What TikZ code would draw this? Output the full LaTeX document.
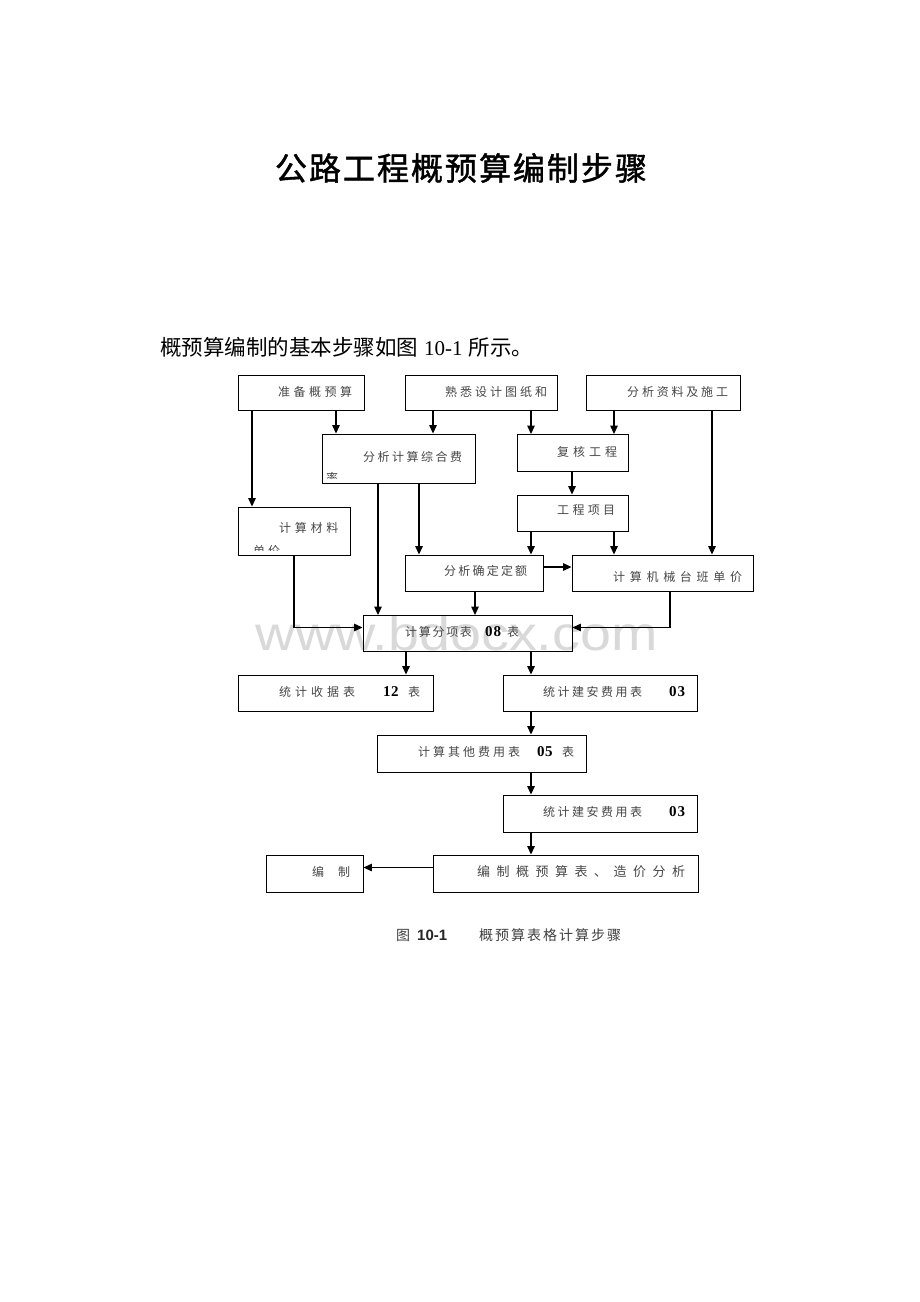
\documentclass[tikz,border=0pt]{standalone}
\usepackage{fontspec}
\setmainfont{Liberation Serif}
\newfontfamily\cjk{Noto Sans CJK SC}
\newfontfamily\cjkb[FakeBold=1.3]{Noto Sans CJK SC}
\newfontfamily\arialf{Liberation Sans}
\usetikzlibrary{arrows.meta}
\makeatletter
\newcommand\spc[2]{\def\spc@sep{\hspace*{#1}}\spc@aux#2\spc@end}
\def\spc@aux#1#2\spc@end{#1\if\relax\detokenize{#2}\relax\else\spc@sep\spc@aux#2\spc@end\fi}
\makeatother
\tikzset{
  box/.style={draw=black, line width=0.9pt, inner sep=0pt},
  txt/.style={font=\cjk\fontsize{12pt}{14pt}\selectfont, text=black!72, inner sep=0pt, anchor=west},
  bigtxt/.style={font=\cjk\fontsize{13pt}{15pt}\selectfont, text=black!72, inner sep=0pt, anchor=west},
  num/.style={font=\bfseries\fontsize{15pt}{15pt}\selectfont, text=black, inner sep=0pt, anchor=west},
  arr/.style={line width=1.3pt, -{Triangle[length=8.5pt,width=7.5pt]}},
}
\begin{document}
\begin{tikzpicture}[x=1pt,y=-1pt]
\fill[white] (0,0) rectangle (920,1302);
\useasboundingbox (0,0) rectangle (920,1302);

% title and intro
\node[font=\cjkb\fontsize{32pt}{36pt}\selectfont, inner sep=0pt] (title) at (461,168) {\spc{2pt}{公路工程概预算编制步骤}};
\node[font=\cjk\fontsize{21.5pt}{24pt}\selectfont, inner sep=0pt, anchor=west] (intro) at (160,347)
  {概预算编制的基本步骤如图\hspace{6pt}{\rmfamily\fontsize{21pt}{24pt}\selectfont 10-1}\hspace{6pt}所示。};

% watermark
\node[font=\arialf\fontsize{48pt}{48pt}\selectfont, text=black!15, inner sep=0pt, anchor=base, xscale=1.16] (wm) at (456.5,650) {www.bdocx.com};

% boxes
\node[box, minimum width=126pt, minimum height=35pt] (b1) at (301,392.5) {};
\node[box, minimum width=152pt, minimum height=35pt] (b2) at (481,392.5) {};
\node[box, minimum width=154pt, minimum height=35pt] (b3) at (663,392.5) {};
\node[box, minimum width=153pt, minimum height=49pt] (b4) at (398.5,458.5) {};
\node[box, minimum width=111pt, minimum height=37pt] (b5) at (572.5,453) {};
\node[box, minimum width=111pt, minimum height=36pt] (b6) at (572.5,513) {};
\node[box, minimum width=112pt, minimum height=48pt] (b7) at (294,531) {};
\node[box, minimum width=138pt, minimum height=36pt] (b8) at (474,573) {};
\node[box, minimum width=181pt, minimum height=36pt] (b9) at (662.5,573) {};
\node[box, minimum width=209pt, minimum height=36pt] (b10) at (467.5,633.5) {};
\node[box, minimum width=195pt, minimum height=36pt] (b11) at (335.5,693) {};
\node[box, minimum width=194pt, minimum height=36pt] (b12) at (600.5,693) {};
\node[box, minimum width=209pt, minimum height=37pt] (b13) at (482,753.5) {};
\node[box, minimum width=194pt, minimum height=37pt] (b14) at (600.5,813.5) {};
\node[box, minimum width=265pt, minimum height=37pt] (b15) at (565.5,873.5) {};
\node[box, minimum width=97pt, minimum height=37pt] (b16) at (314.5,873.5) {};

% box texts
\node[txt] (t1) at (278,392) {\spc{3.5pt}{准备概预算}};
\node[txt] (t2) at (445,392) {\spc{3pt}{熟悉设计图纸和}};
\node[txt] (t3) at (627,392) {\spc{2.8pt}{分析资料及施工}};
\node[txt] (t4) at (363,457) {\spc{2.5pt}{分析计算综合费}};
\node[txt] (t5) at (557,452) {\spc{4pt}{复核工程}};
\node[txt] (t6) at (557,510) {\spc{3.3pt}{工程项目}};
\node[txt] (t7) at (279,528) {\spc{3.7pt}{计算材料}};
\node[txt] (t8) at (444,571) {\spc{2.2pt}{分析确定定额}};
\node[txt] (t9) at (613,577) {\spc{4.7pt}{计算机械台班单价}};
\node[txt] (t10) at (405,632) {\spc{1.7pt}{计算分项表}};
\node[num] (n10) at (485,632) {\spc{1pt}{08}};
\node[txt] (u10) at (507,632) {表};
\node[txt] (t11) at (279,692) {\spc{4pt}{统计收据表}};
\node[num] (n11) at (383,692) {\spc{0.5pt}{12}};
\node[txt] (u11) at (408,692) {表};
\node[txt] (t12) at (543,692) {\spc{2.5pt}{统计建安费用表}};
\node[num] (n12) at (669,692) {\spc{1pt}{03}};
\node[txt] (t13) at (418,752) {\spc{3pt}{计算其他费用表}};
\node[num] (n13) at (537,752) {\spc{0.5pt}{05}};
\node[txt] (u13) at (562,752) {表};
\node[txt] (t14) at (543,812) {\spc{2.5pt}{统计建安费用表}};
\node[num] (n14) at (669,812) {\spc{1pt}{03}};
\node[bigtxt] (t15) at (477,872) {\spc{6.5pt}{编制概预算表、造价分析}};
\node[txt] (t16) at (312,872) {\spc{14pt}{编制}};

% clipped second lines
\begin{scope}
\clip (323,468) rectangle (474,478.5);
\node[txt] (f4) at (326,478) {率};
\end{scope}
\begin{scope}
\clip (239,540) rectangle (349,550);
\node[txt] (f7) at (253,551) {\spc{3pt}{单价}};
\end{scope}

% caption
\node[font=\cjk\fontsize{14pt}{16pt}\selectfont, text=black!75, inner sep=0pt, anchor=west] (c1) at (396,935) {图};
\node[font=\arialf\bfseries\fontsize{15pt}{16pt}\selectfont, text=black!85, inner sep=0pt, anchor=west] (c2) at (417,935) {10-1};
\node[font=\cjk\fontsize{14pt}{16pt}\selectfont, text=black!75, inner sep=0pt, anchor=west] (c3) at (479,935) {\spc{2pt}{概预算表格计算步骤}};

% column coordinates
\foreach \xx in {252,294,336,378,406,419,433,475,531,572,614,670,712}
  \coordinate (X\xx) at (\xx,0);

% connectors
\draw[arr] (b1.south -| X252) -- (b7.north -| X252);
\draw[arr] (b1.south -| X336) -- (b4.north -| X336);
\draw[arr] (b2.south -| X433) -- (b4.north -| X433);
\draw[arr] (b2.south -| X531) -- (b5.north -| X531);
\draw[arr] (b3.south -| X614) -- (b5.north -| X614);
\draw[arr] (b3.south -| X712) -- (b9.north -| X712);
\draw[arr] (b5.south -| X572) -- (b6.north -| X572);
\draw[arr] (b6.south -| X531) -- (b8.north -| X531);
\draw[arr] (b6.south -| X614) -- (b9.north -| X614);
\draw[arr] (b4.south -| X378) -- (b10.north -| X378);
\draw[arr] (b4.south -| X419) -- (b8.north -| X419);
\draw[arr] (b7.south -| X294) |- ([yshift=6pt]b10.west);
\draw[arr] ([yshift=6pt]b8.east) -- ([yshift=6pt]b9.west);
\draw[arr] (b8.south -| X475) -- (b10.north -| X475);
\draw[arr] (b9.south -| X670) |- ([yshift=6pt]b10.east);
\draw[arr] (b10.south -| X406) -- (b11.north -| X406);
\draw[arr] (b10.south -| X531) -- (b12.north -| X531);
\draw[arr] (b12.south -| X531) -- (b13.north -| X531);
\draw[arr] (b13.south -| X531) -- (b14.north -| X531);
\draw[arr] (b14.south -| X531) -- (b15.north -| X531);
\draw[arr] ([yshift=6pt]b15.west) -- ([yshift=6pt]b16.east);
\end{tikzpicture}
\end{document}
